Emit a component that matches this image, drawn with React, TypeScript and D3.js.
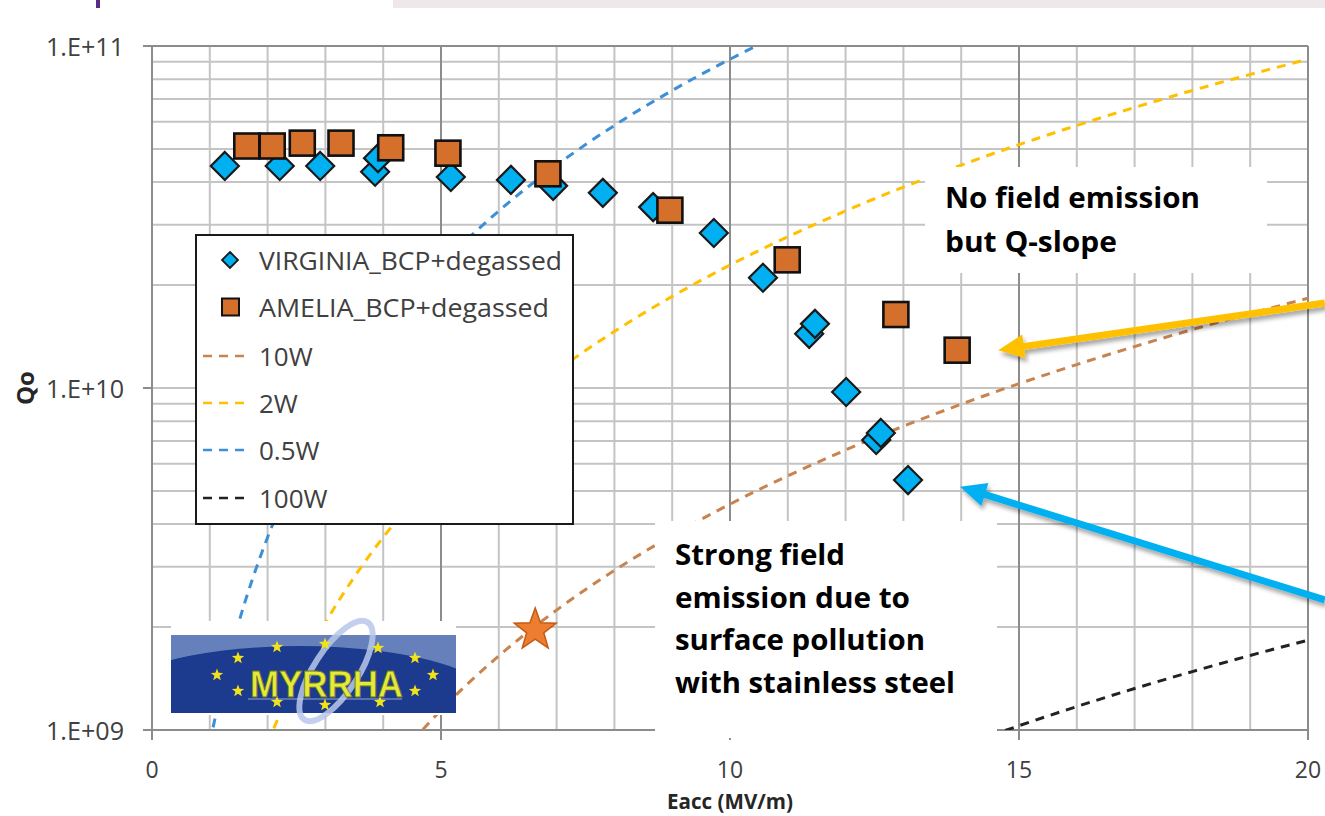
import React from 'react';
import * as d3 from 'd3';

// ---------- data ----------
const virginiaE = [1.26, 2.21, 2.91, 3.86, 3.91, 5.17, 6.21, 6.94, 7.8, 8.67, 9.72, 10.57, 11.37, 11.47, 12.01, 12.53, 12.61, 13.08];
const virginiaQ = [4.46e10, 4.46e10, 4.46e10, 4.29e10, 4.7e10, 4.14e10, 4.06e10, 3.9e10, 3.72e10, 3.38e10, 2.84e10, 2.1e10, 1.44e10, 1.54e10, 9.73e9, 7.05e9, 7.39e9, 5.38e9];

const ameliaE = [1.64, 2.08, 2.6, 3.27, 4.13, 5.12, 6.85, 8.96, 10.99, 12.87, 13.93];
const ameliaQ = [5.1e10, 5.1e10, 5.2e10, 5.2e10, 5.04e10, 4.86e10, 4.23e10, 3.31e10, 2.37e10, 1.64e10, 1.29e10];

const w05E = [1.0, 1.25, 1.5, 1.75, 2, 2.5, 3, 3.5, 4, 5, 6, 7, 8, 9, 10, 11];
const w05Q = [9.15e8, 1.43e9, 2.059e9, 2.802e9, 3.66e9, 5.719e9, 8.235e9, 1.121e10, 1.464e10, 2.288e10, 3.294e10, 4.484e10, 5.856e10, 7.412e10, 9.15e10, 1.107e11];

const w2E = [2, 2.5, 3, 3.5, 4, 5, 6, 7, 8, 9, 10, 12, 14, 16, 18, 20];
const w2Q = [9.15e8, 1.43e9, 2.059e9, 2.802e9, 3.66e9, 5.719e9, 8.235e9, 1.121e10, 1.464e10, 1.853e10, 2.288e10, 3.294e10, 4.484e10, 5.856e10, 7.412e10, 9.15e10];

const w10E = [4.5, 5, 6, 7, 8, 9, 10, 12, 14, 16, 18, 20];
const w10Q = [9.26e8, 1.144e9, 1.647e9, 2.242e9, 2.928e9, 3.706e9, 4.575e9, 6.588e9, 8.967e9, 1.171e10, 1.482e10, 1.83e10];

const w100E = [14.5, 15, 16, 17, 18, 19, 20];
const w100Q = [9.62e8, 1.029e9, 1.171e9, 1.322e9, 1.482e9, 1.652e9, 1.83e9];

const starE = [6.63];
const starQ = [1.96e9];

const xTickValues = [0, 5, 10, 15, 20];
const xTickLabels = ['0', '5', '10', '15', '20'];
const yTickValues = [1e9, 1e10, 1e11];
const yTickLabels = ['1.E+09', '1.E+10', '1.E+11'];

const legendLabels = ['VIRGINIA_BCP+degassed', 'AMELIA_BCP+degassed', '10W', '2W', '0.5W', '100W'];

const noFieldLines = ['No field emission', 'but Q-slope'];
const strongLines = ['Strong field', 'emission due to', 'surface pollution', 'with stainless steel'];

// arrows (data coordinates: start -> tip)
const arrowOrange = { e0: 20.29, q0: 1.772e10, e1: 14.64, q1: 1.29e10 };
const arrowBlue = { e0: 20.29, q0: 2.4e9, e1: 13.98, q1: 5.14e9 };

// ---------- styles ----------
const C = {
  diamond: '#00b0f0',
  square: '#d4702b',
  w10: '#c9834f',
  w2: '#ffc000',
  w05: '#3d8fd8',
  w100: '#222222',
  gridMinor: '#c4c4c4',
  gridMajor: '#8c8c8c',
  text: '#404040',
};

const W = 1325;
const H = 816;
const PL = 152, PR = 1308, PT = 46, PB = 730;

const x = d3.scaleLinear().domain([0, 20]).range([PL, PR]);
const y = d3.scaleLog().domain([1e9, 1e11]).range([PB, PT]);

function zip(es: number[], qs: number[]) {
  return es.map((e, i) => [e, qs[i]] as [number, number]);
}

const lineGen = d3
  .line<[number, number]>()
  .x((d) => x(d[0]))
  .y((d) => y(d[1]))
  .curve(d3.curveMonotoneX);

function diamondPath(cx: number, cy: number, r: number) {
  return `M${cx},${cy - r}L${cx + r},${cy}L${cx},${cy + r}L${cx - r},${cy}Z`;
}

function starPath(cx: number, cy: number, ro: number, ri: number, n = 5) {
  const pts: string[] = [];
  for (let i = 0; i < n * 2; i++) {
    const r = i % 2 === 0 ? ro : ri;
    const a = -Math.PI / 2 + (i * Math.PI) / n;
    pts.push(`${cx + r * Math.cos(a)},${cy + r * Math.sin(a)}`);
  }
  return 'M' + pts.join('L') + 'Z';
}

function Arrow({ a, color }: { a: { e0: number; q0: number; e1: number; q1: number }; color: string }) {
  const sx = x(a.e0), sy = y(a.q0), tx = x(a.e1), ty = y(a.q1);
  const dx = tx - sx, dy = ty - sy;
  const len = Math.hypot(dx, dy);
  const ux = dx / len, uy = dy / len;
  const nx = -uy, ny = ux;
  const L = 26, hw = 12;
  const bx = tx - ux * L, by = ty - uy * L;
  return (
    <g filter="url(#shadow)">
      <line x1={sx} y1={sy} x2={bx + ux * 3} y2={by + uy * 3} stroke={color} strokeWidth={7} />
      <path d={`M${tx},${ty}L${bx + nx * hw},${by + ny * hw}L${bx - nx * hw},${by - ny * hw}Z`} fill={color} />
    </g>
  );
}

function Logo() {
  const lx = 171, ly = 635, lw = 285, lh = 78;
  const starPos = [
    [217, 675], [238, 658], [277, 647], [325, 644], [378, 648], [415, 658],
    [433, 675], [415, 691], [380, 702], [325, 705], [277, 702], [238, 691],
  ];
  return (
    <g>
      <rect x={lx} y={621} width={lw} height={94} fill="#ffffff" />
      <defs>
        <clipPath id="logoClip">
          <rect x={lx} y={ly} width={lw} height={lh} />
        </clipPath>
      </defs>
      <g clipPath="url(#logoClip)">
        <rect x={lx} y={ly} width={lw} height={lh} fill="#6580bb" />
        <ellipse cx={300} cy={706} rx={200} ry={60} fill="#1c3a8e" />
        <ellipse cx={262} cy={700} rx={150} ry={50} fill="#1c3a8e" />
      </g>
      <ellipse cx={336} cy={671} rx={58} ry={22} transform="rotate(-57 336 671)" fill="none" stroke="#b8c8ea" strokeWidth={6} opacity={0.85} />
      {starPos.map((p, i) => (
        <path key={i} d={starPath(p[0], p[1], 6.5, 2.7)} fill="#f2e21a" />
      ))}
      <text
        x={250}
        y={697}
        fontFamily="'Liberation Sans', Arial, sans-serif"
        fontSize={36}
        fontWeight="bold"
        fill="#e3ea3a"
        stroke="#6f7520"
        strokeWidth={0.8}
        textLength={153}
        lengthAdjust="spacingAndGlyphs"
      >
        MYRRHA
      </text>
      <line x1={248} x2={402} y1={699} y2={699} stroke="#c8d3ee" strokeWidth={1.2} opacity={0.7} />
    </g>
  );
}

export default function App() {
  const minorX = d3.range(1, 20).filter((v) => v % 5 !== 0);
  const majorX = [5, 10, 15];
  const minorY: number[] = [];
  [1e9, 1e10].forEach((d) => {
    for (let m = 2; m <= 9; m++) minorY.push(d * m);
  });

  const curves = [
    { data: zip(w10E, w10Q), color: C.w10 },
    { data: zip(w2E, w2Q), color: C.w2 },
    { data: zip(w05E, w05Q), color: C.w05 },
    { data: zip(w100E, w100Q), color: C.w100 },
  ];

  const legendY = [260, 307, 356, 403, 450, 498];
  const legendDash = [C.w10, C.w2, C.w05, C.w100];

  return (
    <svg
      width={W}
      height={H}
      viewBox={`0 0 ${W} ${H}`}
      style={{ position: 'absolute', left: 0, top: 0, display: 'block', background: '#ffffff' }}
      fontFamily="'Open Sans', 'Noto Sans', sans-serif"
    >
      <defs>
        <clipPath id="plotClip">
          <rect x={PL} y={PT} width={PR - PL} height={PB - PT} />
        </clipPath>
        <filter id="shadow" x="-20%" y="-50%" width="140%" height="200%">
          <feDropShadow dx={2} dy={4} stdDeviation={2} floodColor="#000" floodOpacity={0.35} />
        </filter>
      </defs>

      {/* header decorations */}
      <rect x={0} y={0} width={W} height={H} fill="#ffffff" />
      <rect x={96} y={0} width={4} height={8} fill="#5b2a86" />
      <rect x={393} y={0} width={W - 393} height={8} fill="#efe8ea" />

      {/* grid */}
      {minorY.map((v) => (
        <line key={'hy' + v} x1={PL} x2={PR} y1={y(v)} y2={y(v)} stroke={C.gridMinor} strokeWidth={2} />
      ))}
      {minorX.map((v) => (
        <line key={'vx' + v} x1={x(v)} x2={x(v)} y1={PT} y2={PB} stroke={C.gridMinor} strokeWidth={2} />
      ))}
      <line x1={PL} x2={PR} y1={y(1e10)} y2={y(1e10)} stroke={C.gridMinor} strokeWidth={2} />
      {majorX.map((v) => (
        <line key={'mx' + v} x1={x(v)} x2={x(v)} y1={PT} y2={PB} stroke={C.gridMajor} strokeWidth={2} />
      ))}
      {/* plot border / axes */}
      <line x1={PL} x2={PR} y1={PT} y2={PT} stroke={C.gridMajor} strokeWidth={2} />
      <line x1={PR} x2={PR} y1={PT} y2={PB} stroke={C.gridMajor} strokeWidth={2} />
      <line x1={PL} x2={PL} y1={PT} y2={PB} stroke={C.gridMajor} strokeWidth={2} />
      <line x1={PL - 8} x2={PR} y1={PB} y2={PB} stroke={C.gridMajor} strokeWidth={2} />
      {yTickValues.map((v) => (
        <line key={'yt' + v} x1={PL - 9} x2={PL} y1={y(v)} y2={y(v)} stroke={C.gridMajor} strokeWidth={2} />
      ))}
      {xTickValues.map((v) => (
        <line key={'xt' + v} x1={x(v)} x2={x(v)} y1={PB} y2={PB + 10} stroke={C.gridMajor} strokeWidth={2} />
      ))}

      {/* power curves */}
      <g clipPath="url(#plotClip)">
        {curves.map((c, i) => (
          <path key={i} d={lineGen(c.data) || ''} fill="none" stroke={c.color} strokeWidth={3} strokeDasharray="9 7" />
        ))}
      </g>

      {/* star */}
      {starE.map((e, i) => (
        <path key={'st' + i} d={starPath(x(e), y(starQ[i]), 22, 9)} fill="#ed7d31" stroke="#c55a11" strokeWidth={1.5} />
      ))}

      {/* data markers */}
      {virginiaE.map((e, i) => (
        <path key={'v' + i} d={diamondPath(x(e), y(virginiaQ[i]), 14)} fill={C.diamond} stroke="#1a1a1a" strokeWidth={2.2} />
      ))}
      {ameliaE.map((e, i) => (
        <rect
          key={'a' + i}
          x={x(e) - 12.5}
          y={y(ameliaQ[i]) - 12.5}
          width={25}
          height={25}
          fill={C.square}
          stroke="#111111"
          strokeWidth={2.6}
        />
      ))}

      {/* tick labels */}
      {yTickValues.map((v, i) => (
        <text key={'yl' + v} x={124} y={y(v)} textAnchor="end" dominantBaseline="central" fontSize={25} fill={C.text}
          textLength={78} lengthAdjust="spacingAndGlyphs">
          {yTickLabels[i]}
        </text>
      ))}
      {xTickValues.map((v, i) => (
        <text key={'xl' + v} x={x(v)} y={769} textAnchor="middle" dominantBaseline="central" fontSize={23} fill={C.text}>
          {xTickLabels[i]}
        </text>
      ))}

      {/* axis titles */}
      <text x={730} y={801} textAnchor="middle" dominantBaseline="central" fontSize={21} fontWeight="bold" fill="#262626" textLength={126} lengthAdjust="spacingAndGlyphs">
        Eacc (MV/m)
      </text>
      <text transform="translate(24,388) rotate(-90)" textAnchor="middle" dominantBaseline="central" fontSize={24} fontWeight="bold" fill="#262626">
        Qo
      </text>

      {/* legend */}
      <rect x={196} y={235} width={377} height={289} fill="#ffffff" stroke="#1a1a1a" strokeWidth={2} />
      <path d={diamondPath(230, legendY[0], 8)} fill={C.diamond} stroke="#1a1a1a" strokeWidth={1.8} />
      <rect x={222} y={legendY[1] - 8.5} width={17} height={17} fill={C.square} stroke="#111" strokeWidth={2} />
      {legendDash.map((c, i) => (
        <line key={'ld' + i} x1={203} x2={250} y1={legendY[i + 2]} y2={legendY[i + 2]} stroke={c} strokeWidth={2.5} strokeDasharray="9 7" />
      ))}
      {legendLabels.map((t, i) => (
        <text
          key={'lt' + i}
          x={259}
          y={legendY[i]}
          dominantBaseline="central"
          fontSize={26}
          fill={C.text}
          {...(i < 2 ? { textLength: i === 0 ? 303 : 290, lengthAdjust: 'spacingAndGlyphs' } : {})}
        >
          {t}
        </text>
      ))}

      {/* logo */}
      <Logo />

      {/* annotation boxes */}
      <rect x={925} y={167} width={342} height={106} fill="#ffffff" />
      {noFieldLines.map((t, i) => (
        <text key={'nf' + i} x={945} y={208 + i * 44} fontSize={28} fontWeight="bold" fill="#000"
          textLength={i === 0 ? 255 : 172} lengthAdjust="spacingAndGlyphs">
          {t}
        </text>
      ))}
      <rect x={655} y={521} width={342} height={217} fill="#ffffff" />
      {strongLines.map((t, i) => (
        <text key={'sf' + i} x={675} y={565 + i * 42.7} fontSize={29} fontWeight="bold" fill="#000"
          textLength={[170, 235, 250, 280][i]} lengthAdjust="spacingAndGlyphs">
          {t}
        </text>
      ))}

      {/* arrows */}
      <Arrow a={arrowOrange} color="#ffc000" />
      <Arrow a={arrowBlue} color="#00b0f0" />
    </svg>
  );
}
